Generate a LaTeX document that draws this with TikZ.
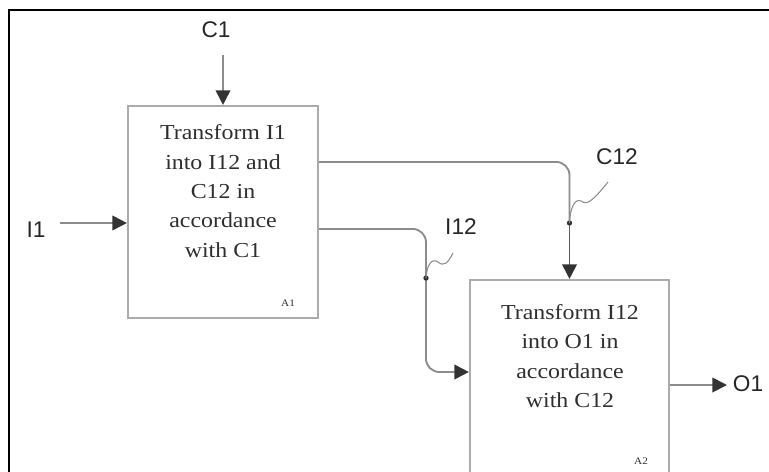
\documentclass[tikz,border=0pt]{standalone}
\usepackage{fontspec}
\setmainfont{Liberation Serif}
\newfontfamily\boxfont[FakeStretch=1.12]{Liberation Serif}
\newfontfamily\lblfont{Liberation Sans}
\usetikzlibrary{positioning,calc,arrows.meta}
\definecolor{boxgray}{HTML}{ABABAB}
\definecolor{linegray}{HTML}{8C8C8C}
\definecolor{tipgray}{HTML}{333333}
\definecolor{textgray}{HTML}{2E2E2E}
\tikzset{
  proc/.style={draw=boxgray, line width=1.6pt, inner sep=0pt},
  boxtext/.style={align=center, text=textgray, font=\boxfont\fontsize{16}{22}\selectfont},
  lbl/.style={text=black!85, font=\lblfont\fontsize{17}{20}\selectfont, inner sep=1pt},
  tag/.style={text=textgray, font=\boxfont\fontsize{7.5}{8}\selectfont, inner sep=1pt},
  line/.style={draw=linegray, line width=1.4pt},
  flow/.style={line, -{Triangle[length=11pt,width=11pt,color=tipgray]}}
}

\begin{document}
\begin{tikzpicture}[x=0.75pt,y=-0.75pt]
  \useasboundingbox (0,0) rectangle (769,472);
  % Frame
  \draw[line width=2.2pt] (9,472) -- (9,10) -- (769,10);
  % Activity boxes
  \node[proc, minimum width=142.5pt, minimum height=159pt] (A1) at (223,212) {};
  \node[proc, minimum width=149.25pt, minimum height=148.5pt] (A2) at (569.5,379) {};
  \node[boxtext] (A1txt) at (223,191) {Transform I1\\into I12 and\\C12 in\\accordance\\with C1};
  \node[boxtext] (A2txt) at (570,356) {Transform I12\\into O1 in\\accordance\\with C12};
  \node[tag] (A1tag) at ($(A1.south east)+(-31,-16)$) {A1};
  \node[tag] (A2tag) at ($(A2.south east)+(-29,-18)$) {A2};
  % Labels
  \node[lbl] (C1) at (216,30) {C1};
  \node[lbl] (I1) at (36,230) {I1};
  \node[lbl] (I12) at (461,227) {I12};
  \node[lbl] (C12) at (617,157) {C12};
  \node[lbl] (O1) at (748,384) {O1};
  % Free ends and branch dots
  \coordinate (c1src) at (223,55);
  \coordinate (i1src) at (60,223);
  \coordinate (o1end) at (727,385);
  \coordinate (c12dot) at (569.5,223);
  \coordinate (i12dot) at (426,278);
  % Inputs, controls, outputs
  \draw[flow] (c1src) -- (A1.north);
  \draw[flow] (i1src) -- (A1.west |- i1src);
  \draw[flow] (A2.east |- o1end) -- (o1end);
  % C12 from A1 to A2
  \draw[line, rounded corners=10] ($(A1.north east)+(0,57)$) -| (c12dot);
  \draw[flow, draw=tipgray!80] (c12dot) -- (A2.north);
  % I12 from A1 to A2
  \draw[line, rounded corners=10] ($(A1.north east)+(0,124)$) -| (i12dot);
  \draw[flow, rounded corners=10] (i12dot) |- ($(A2.west)+(0,-7)$);
  % Dots and squiggles
  \fill[tipgray] (c12dot) circle (2pt);
  \fill[tipgray] (i12dot) circle (2pt);
  \draw[line, line width=0.8pt] (c12dot) .. controls (570,208) and (575,198) .. (581,201)
    .. controls (587,205) and (591,203) .. (608,182);
  \draw[line, line width=0.8pt] (i12dot) .. controls (427,264) and (432,258) .. (438,262)
    .. controls (444,267) and (448,263) .. (453,253);
\end{tikzpicture}
\end{document}
